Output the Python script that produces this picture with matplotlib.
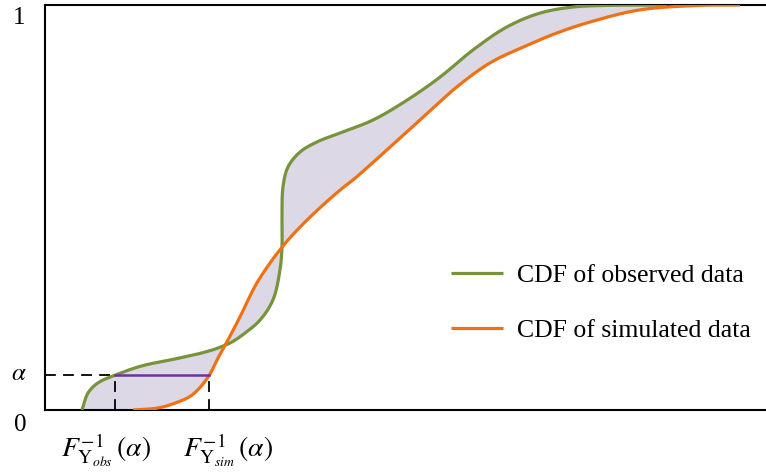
import numpy as np
import matplotlib
matplotlib.use("Agg")
import matplotlib.pyplot as plt

plt.rcParams.update({"font.family": "Liberation Serif", "mathtext.fontset": "stix"})

# values: x on a 0-100 scale, y = cumulative probability
ALPHA = 0.086
obs_x = [5.13, 5.96, 7.35, 9.71, 13.45, 18.03, 21.78, 23.99, 25.94, 27.74,
         29.82, 31.62, 32.59, 32.87, 32.87, 33.01, 33.70, 35.37, 37.73, 40.92,
         45.49, 50.21, 54.79, 59.36, 64.08, 68.65, 73.23, 77.95, 86.27]
obs_y = [0.000, 0.042, 0.067, 0.086, 0.109, 0.126, 0.141, 0.153, 0.168, 0.190,
         0.222, 0.272, 0.346, 0.402, 0.469, 0.551, 0.600, 0.637, 0.662, 0.684,
         0.716, 0.765, 0.822, 0.889, 0.946, 0.980, 0.995, 0.999, 1.000]
sim_x = [12.21, 15.67, 18.03, 20.39, 22.61, 23.99, 25.38, 27.05, 29.40,
         32.87, 36.34, 40.92, 42.72, 47.85, 52.43, 57.14, 61.72, 66.30, 71.01,
         75.59, 82.52, 90.85, 96.39]
sim_y = [0.000, 0.005, 0.017, 0.037, 0.081, 0.128, 0.173, 0.230, 0.314,
         0.402, 0.469, 0.543, 0.568, 0.649, 0.723, 0.798, 0.857, 0.896, 0.931,
         0.958, 0.988, 0.999, 1.000]
q_obs, q_sim = 9.65, 22.7
labels = ["CDF of observed data", "CDF of simulated data"]

GREEN, ORANGE, PURPLE, FILL = "#77933C", "#EE7214", "#7030A0", "#DDD8E6"


def smooth(xs, ys, n=30):
    # centripetal catmull-rom through the read points
    p = np.column_stack([xs, ys]).astype(float) * [7.21, 405.0]
    p = np.vstack([2 * p[0] - p[1], p, 2 * p[-1] - p[-2]])
    out = []
    for i in range(1, len(p) - 2):
        p0, p1, p2, p3 = p[i - 1], p[i], p[i + 1], p[i + 2]
        t0 = 0.0
        t1 = t0 + np.linalg.norm(p1 - p0) ** 0.5 + 1e-9
        t2 = t1 + np.linalg.norm(p2 - p1) ** 0.5 + 1e-9
        t3 = t2 + np.linalg.norm(p3 - p2) ** 0.5 + 1e-9
        t = np.linspace(t1, t2, n)[:, None]
        a1 = (t1 - t) / (t1 - t0) * p0 + (t - t0) / (t1 - t0) * p1
        a2 = (t2 - t) / (t2 - t1) * p1 + (t - t1) / (t2 - t1) * p2
        a3 = (t3 - t) / (t3 - t2) * p2 + (t - t2) / (t3 - t2) * p3
        b1 = (t2 - t) / (t2 - t0) * a1 + (t - t0) / (t2 - t0) * a2
        b2 = (t3 - t) / (t3 - t1) * a2 + (t - t1) / (t3 - t1) * a3
        c = (t2 - t) / (t2 - t1) * b1 + (t - t1) / (t2 - t1) * b2
        out.append(c if i == 1 else c[1:])
    c = np.vstack(out) / [7.21, 405.0]
    return c[:, 0], c[:, 1]


gx, gy = smooth(obs_x, obs_y)
sx, sy = smooth(sim_x, sim_y)

fig = plt.figure(figsize=(7.66, 4.74), dpi=100)
ax = fig.add_axes([45 / 766, 64 / 474, 721 / 766, 405 / 474])
ax.set_xlim(0, 100)
ax.set_ylim(0, 1)

ax.fill(np.r_[gx, sx[::-1]], np.r_[gy, sy[::-1]], color=FILL, lw=0, zorder=1)
ax.plot(gx, gy, color=GREEN, lw=2.3, label=labels[0], zorder=3, solid_capstyle="butt")
ax.plot(sx, sy, color=ORANGE, lw=2.3, label=labels[1], zorder=3, solid_capstyle="butt")

dash = dict(color="black", lw=1.3, ls=(0, (6, 4)), zorder=2)
ax.plot([0, q_obs], [ALPHA, ALPHA], **dash)
ax.plot([q_obs, q_obs], [0, ALPHA], **dash)
ax.plot([q_sim, q_sim], [0, ALPHA], **dash)
ax.plot([q_obs, q_sim], [ALPHA, ALPHA], color=PURPLE, lw=1.8, zorder=4)

for s in ["left", "bottom", "top"]:
    ax.spines[s].set_linewidth(1.5)
ax.spines["right"].set_visible(False)
ax.set_xticks([])
ax.set_yticks([])

yl = dict(xycoords=("axes fraction", "data"), textcoords="offset points",
          ha="center", va="center", fontsize=18)
ax.annotate("1", (0, 1), xytext=(-19, -9), **yl)
ax.annotate(r"$\alpha$", (0, ALPHA), xytext=(-19, 1), **yl)
ax.annotate("0", (0, 0), xytext=(-18, -11), **yl)

xl = dict(textcoords="offset points", ha="center", va="center", fontsize=20,
          annotation_clip=False)
ax.annotate(r"$F^{-1}_{\mathrm{Y}_{\mathit{obs}}}\,(\alpha)$", (q_obs, 0), xytext=(-6, -29), **xl)
ax.annotate(r"$F^{-1}_{\mathrm{Y}_{\mathit{sim}}}\,(\alpha)$", (q_sim, 0), xytext=(14, -29), **xl)

ax.legend(loc="upper left", bbox_to_anchor=(0.5305, 0.417), frameon=False, fontsize=18.5,
          handlelength=2.05, handletextpad=0.55, labelspacing=1.25)

fig.savefig("out.png", dpi=100)
